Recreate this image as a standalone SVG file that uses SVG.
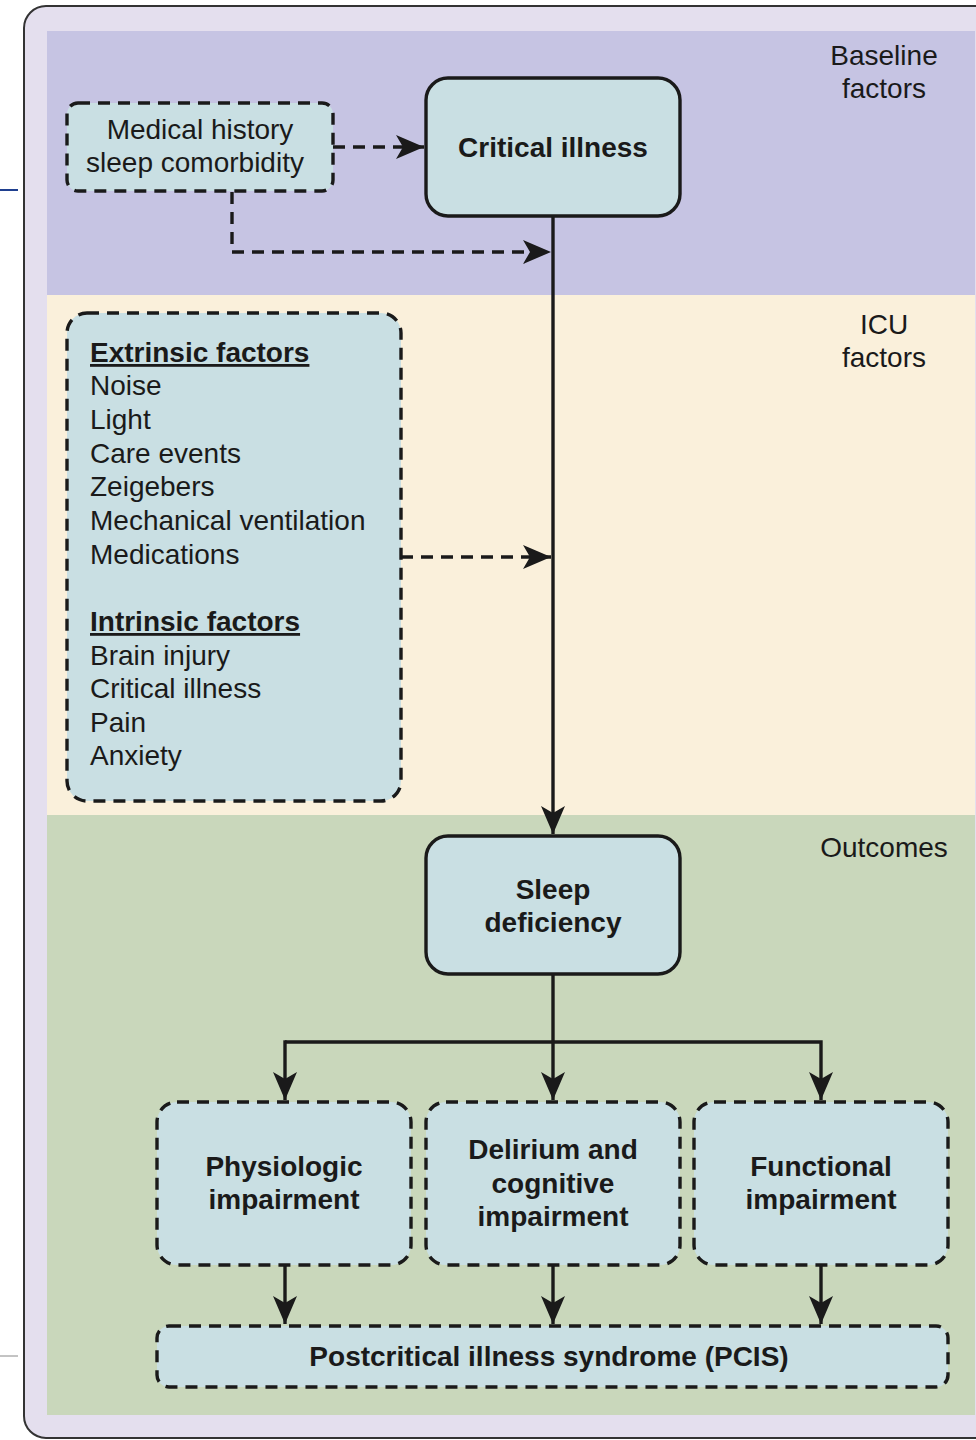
<svg xmlns="http://www.w3.org/2000/svg" width="976" height="1440" viewBox="0 0 976 1440">
<defs>
<style>
.t{font-family:"Liberation Sans",Arial,sans-serif;font-size:28px;fill:#1a1a1a}
.b{font-weight:bold}
.c{text-anchor:middle}
.solid{fill:#c9dfe3;stroke:#1a1a1a;stroke-width:3.4}
.dash{fill:#c9dfe3;stroke:#1a1a1a;stroke-width:3.4;stroke-dasharray:12 8}
.ln{fill:none;stroke:#1a1a1a;stroke-width:3.4}
.dl{fill:none;stroke:#1a1a1a;stroke-width:3.4;stroke-dasharray:12 8}
</style>
<marker id="ah" markerUnits="userSpaceOnUse" markerWidth="32" markerHeight="32" viewBox="-30 -15 32 30" refX="0" refY="0" orient="auto">
<path d="M0,0 L-28,-12 L-21,0 L-28,12 Z" fill="#1a1a1a"/>
</marker>
</defs>
<line x1="0" y1="190" x2="18" y2="190" stroke="#1f3f8f" stroke-width="2"/>
<line x1="0" y1="1356" x2="18" y2="1356" stroke="#888" stroke-width="1"/>
<g id="frame">
<rect x="24" y="6" width="990" height="1432" rx="22" fill="#e4dfee" stroke="#333" stroke-width="2"/>
<rect x="47" y="31" width="928" height="264" fill="#c6c4e3"/>
<rect x="47" y="295" width="928" height="520" fill="#faf0db"/>
<rect x="47" y="815" width="928" height="600" fill="#c9d7bb"/>
<text class="t c" x="884" y="65">Baseline</text>
<text class="t c" x="884" y="98">factors</text>
<text class="t c" x="884" y="334">ICU</text>
<text class="t c" x="884" y="367">factors</text>
<text class="t c" x="884" y="857">Outcomes</text>
</g>
<g id="connectors">
<line class="dl" x1="333" y1="147" x2="424" y2="147" marker-end="url(#ah)"/>
<polyline class="dl" points="232,192 232,252 551,252" marker-end="url(#ah)"/>
<line class="ln" x1="553" y1="216" x2="553" y2="834" marker-end="url(#ah)"/>
<line class="dl" x1="401" y1="557" x2="551" y2="557" marker-end="url(#ah)"/>
<line class="ln" x1="553" y1="975" x2="553" y2="1042"/>
<polyline class="ln" points="285,1042 821,1042 821,1100" marker-end="url(#ah)"/>
<line class="ln" x1="285" y1="1040.3" x2="285" y2="1100" marker-end="url(#ah)"/>
<line class="ln" x1="553" y1="1042" x2="553" y2="1100" marker-end="url(#ah)"/>
<line class="ln" x1="285" y1="1266" x2="285" y2="1324" marker-end="url(#ah)"/>
<line class="ln" x1="553" y1="1266" x2="553" y2="1324" marker-end="url(#ah)"/>
<line class="ln" x1="821" y1="1266" x2="821" y2="1324" marker-end="url(#ah)"/>
</g>
<g id="medical-history">
<rect class="dash" x="67" y="103" width="266" height="88" rx="11"/>
<text class="t c" x="200" y="139">Medical history</text>
<text class="t c" x="195" y="172">sleep comorbidity</text>
</g>
<g id="critical-illness">
<rect class="solid" x="426" y="78" width="254" height="138" rx="22"/>
<text class="t b c" x="553" y="157">Critical illness</text>
</g>
<g id="icu-factors">
<rect class="dash" x="67" y="313" width="334" height="488" rx="20"/>
<text class="t b" x="90" y="362" text-decoration="underline">Extrinsic factors</text>
<text class="t" x="90" y="395">Noise</text>
<text class="t" x="90" y="429">Light</text>
<text class="t" x="90" y="463">Care events</text>
<text class="t" x="90" y="496">Zeigebers</text>
<text class="t" x="90" y="530">Mechanical ventilation</text>
<text class="t" x="90" y="564">Medications</text>
<text class="t b" x="90" y="631" text-decoration="underline">Intrinsic factors</text>
<text class="t" x="90" y="665">Brain injury</text>
<text class="t" x="90" y="698">Critical illness</text>
<text class="t" x="90" y="732">Pain</text>
<text class="t" x="90" y="765">Anxiety</text>
</g>
<g id="sleep-deficiency">
<rect class="solid" x="426" y="836" width="254" height="138" rx="22"/>
<text class="t b c" x="553" y="899">Sleep</text>
<text class="t b c" x="553" y="932">deficiency</text>
</g>
<g id="physiologic">
<rect class="dash" x="157" y="1102" width="254" height="163" rx="20"/>
<text class="t b c" x="284" y="1176">Physiologic</text>
<text class="t b c" x="284" y="1209">impairment</text>
</g>
<g id="delirium">
<rect class="dash" x="426" y="1102" width="254" height="163" rx="20"/>
<text class="t b c" x="553" y="1159">Delirium and</text>
<text class="t b c" x="553" y="1193">cognitive</text>
<text class="t b c" x="553" y="1226">impairment</text>
</g>
<g id="functional">
<rect class="dash" x="694" y="1102" width="254" height="163" rx="20"/>
<text class="t b c" x="821" y="1176">Functional</text>
<text class="t b c" x="821" y="1209">impairment</text>
</g>
<g id="pcis">
<rect class="dash" x="157" y="1326" width="791" height="61" rx="12"/>
<text class="t b c" x="549" y="1366">Postcritical illness syndrome (PCIS)</text>
</g>
</svg>
